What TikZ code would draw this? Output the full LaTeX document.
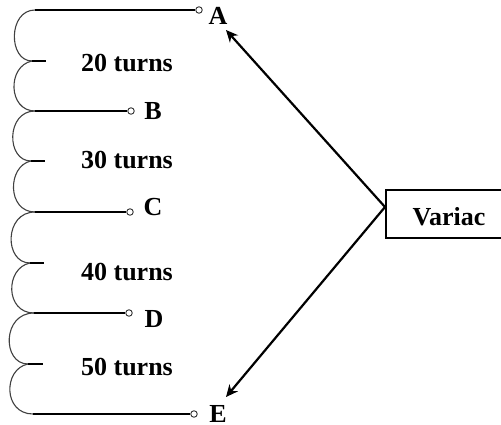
\documentclass[tikz,border=0pt]{standalone}
\usepackage{fontspec}
\setmainfont{Liberation Serif}
\usetikzlibrary{arrows.meta}
\tikzset{
  wire/.style={draw=black,line width=1.1pt},
  coilarc/.style={draw=black!75,line width=1.1pt},
  tapline/.style={draw=black,line width=1.8pt},
  termin/.style={circle,draw=black!80,fill=white,line width=0.9pt,inner sep=0pt,minimum size=6.5pt},
  lbl/.style={font=\fontsize{26}{28}\bfseries\selectfont,inner sep=0pt,text=black},
  feed/.style={draw=black,line width=2.2pt,-{Stealth[length=12pt,width=11pt]}},
  box/.style={draw=black,line width=1.6pt,fill=white,minimum width=120pt,minimum height=48pt,anchor=west,inner sep=0pt}
}
\begin{document}
\begin{tikzpicture}[x=1pt,y=-1pt]
\useasboundingbox (0,0) rectangle (501,425);
% coil joints and tap ends
\coordinate (j0) at (35,10);
\coordinate (t1) at (32,61);
\coordinate (j1) at (35,111);
\coordinate (t2) at (31,161);
\coordinate (j2) at (35,212);
\coordinate (t3) at (30,263);
\coordinate (j3) at (34,313);
\coordinate (t4) at (28,364);
\coordinate (j4) at (33,414);
\coordinate (e1) at (46,61);
\coordinate (e2) at (45,161);
\coordinate (e3) at (44,263);
\coordinate (e4) at (43,364);
% terminals
\node[termin] (ta) at (199,10) {};
\node[termin] (tb) at (131,111) {};
\node[termin] (tc) at (130,212) {};
\node[termin] (td) at (129,313) {};
\node[termin] (te) at (194,414) {};
% coil
\draw[coilarc] (j0) .. controls (8,10) and (8,61) .. (t1);
\draw[coilarc] (t1) .. controls (7,66) and (8,111) .. (j1);
\draw[coilarc] (j1) .. controls (6,111) and (6,161) .. (t2);
\draw[coilarc] (t2) .. controls (7,166) and (7,212) .. (j2);
\draw[coilarc] (j2) .. controls (4,212) and (4,263) .. (t3);
\draw[coilarc] (t3) .. controls (5,268) and (5,313) .. (j3);
\draw[coilarc] (j3) .. controls (2,313) and (2,364) .. (t4);
\draw[coilarc] (t4) .. controls (3,369) and (3,414) .. (j4);
% leads
\draw[wire] (j0) -- (ta);
\draw[wire] (j1) -- (tb);
\draw[wire] (j2) -- (tc);
\draw[wire] (j3) -- (td);
\draw[wire] (j4) -- (te);
\draw[tapline] (t1) -- (e1);
\draw[tapline] (t2) -- (e2);
\draw[tapline] (t3) -- (e3);
\draw[tapline] (t4) -- (e4);
% labels
\node[lbl] (la) at (218,16) {A};
\node[lbl] (lb) at (153,111) {B};
\node[lbl] (lc) at (153,207) {C};
\node[lbl] (ld) at (154,319) {D};
\node[lbl] (le) at (218,414) {E};
\node[lbl] (n20) at (127,63) {20 turns};
\node[lbl] (n30) at (127,160) {30 turns};
\node[lbl] (n40) at (127,272) {40 turns};
\node[lbl] (n50) at (127,367) {50 turns};
% variac
\node[box] (v) at (385,214) {};
\node[lbl] (vt) at (449,217) {Variac};
\coordinate (vp) at (385,207);
\coordinate (aa) at (226,30);
\coordinate (ae) at (226,397);
\draw[feed] (vp) -- (aa);
\draw[feed] (vp) -- (ae);
\end{tikzpicture}
\end{document}
